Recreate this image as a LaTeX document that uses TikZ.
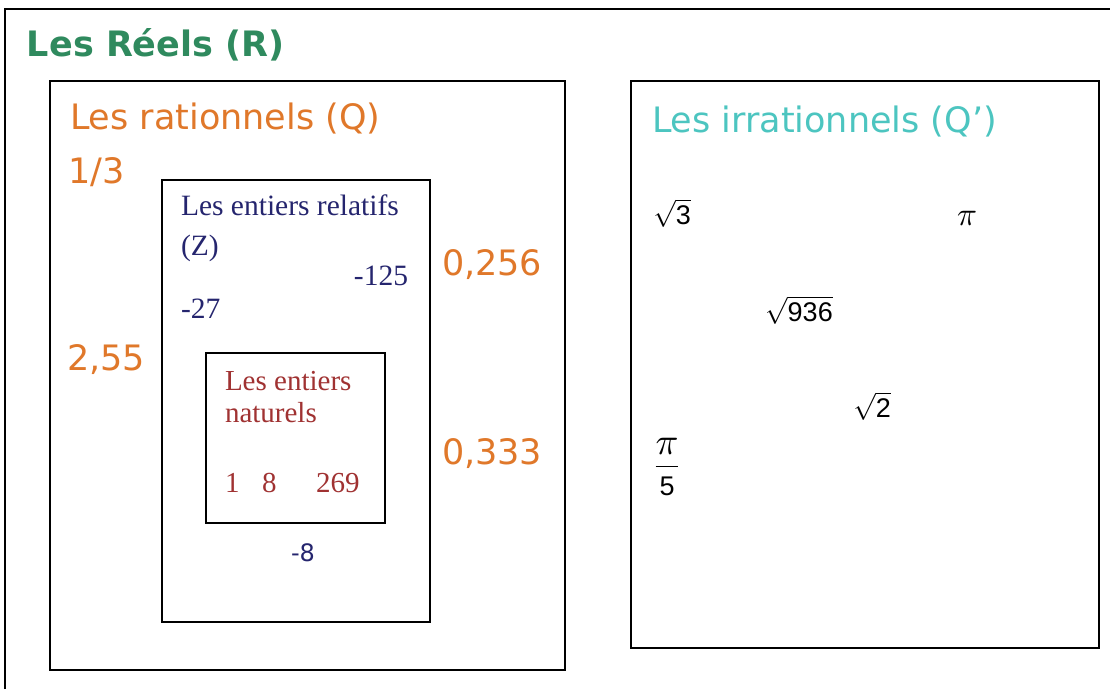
\documentclass[tikz,border=0pt]{standalone}
\usepackage{graphicx}
\usepackage{fontspec}
\setmainfont{Liberation Serif}
\setsansfont{Liberation Sans}
\newfontfamily\tah{DejaVu Sans}
\definecolor{titlegreen}{HTML}{2F8A5E}
\definecolor{qorange}{HTML}{E0782A}
\definecolor{qteal}{HTML}{4CC5C0}
\definecolor{znavy}{HTML}{25256E}
\definecolor{nred}{HTML}{A03232}
\newcommand{\bigmath}[2][2.7]{\scalebox{#1}{\fontsize{10}{12}\selectfont$#2$}}
\begin{document}
\begin{tikzpicture}[x=1pt,y=-1pt,
  txt/.style={anchor=base west, inner sep=0pt, outer sep=0pt},
  setbox/.style={draw=black, line width=1.6pt},
  title/.style={txt, text=titlegreen, font=\tah\bfseries\fontsize{35}{40}\selectfont},
  qtxt/.style={txt, text=qorange, font=\tah\fontsize{35}{40}\selectfont},
  irtxt/.style={txt, text=qteal, font=\tah\fontsize{35}{40}\selectfont},
  ztxt/.style={txt, text=znavy, font=\fontsize{29.5}{34}\selectfont},
  ntxt/.style={txt, text=nred, font=\fontsize{29}{33}\selectfont},
  mth/.style={anchor=center, inner sep=0pt}]
\useasboundingbox (0,0) rectangle (1110,689);
\fill[white] (0,0) rectangle (1110,689);
% boxes
\draw[setbox] (5,689) -- (5,9) -- (1110,9);
\draw[setbox] (50,81) rectangle (565,670);
\draw[setbox] (162,180) rectangle (430,622);
\draw[setbox] (206,353) rectangle (385,523);
\draw[setbox] (631,81) rectangle (1099,648);
% titles
\node[title] (treels) at (27,56) {Les Réels (R)};
\node[qtxt] (tq) at (70,129) {Les rationnels (Q)};
\node[irtxt] (tir) at (652,132) {Les irrationnels (Q’)};
% rationals
\node[qtxt] (q13) at (68,183) {1/3};
\node[qtxt] (q255) at (67,370) {2,55};
\node[qtxt] (q0256) at (442,275) {0,256};
\node[qtxt] (q0333) at (442,464) {0,333};
% integers
\node[ztxt] (tz1) at (181,215) {Les entiers relatifs};
\node[ztxt] (tz2) at (181,255) {(Z)};
\node[ztxt, anchor=base east] (z125) at (408,285) {-125};
\node[ztxt] (z27) at (181,318) {-27};
\node[txt, text=znavy, font=\tah\fontsize{24}{28}\selectfont] (z8) at (291,561) {-8};
% naturals
\node[ntxt] (tn1) at (225,390) {Les entiers};
\node[ntxt] (tn2) at (225,422) {naturels};
\node[ntxt] (n1) at (225,492) {1};
\node[ntxt] (n8) at (262,492) {8};
\node[ntxt] (n269) at (316,492) {269};
% irrationals
\node[mth] (r3) at (672,213) {\bigmath{\sqrt{\textsf{3}}}};
\node[mth] (pi) at (967,218) {\bigmath[3.3]{\pi}};
\node[mth] (r936) at (799,310) {\bigmath{\sqrt{\textsf{936}}}};
\node[mth] (r2) at (872,406) {\bigmath{\sqrt{\textsf{2}}}};
\node[mth] (pi5) at (667,467) {\bigmath{\displaystyle\frac{\scalebox{1.4}{$\pi$}}{\lower1.5pt\hbox{\textsf{5}}}}};
\end{tikzpicture}
\end{document}
